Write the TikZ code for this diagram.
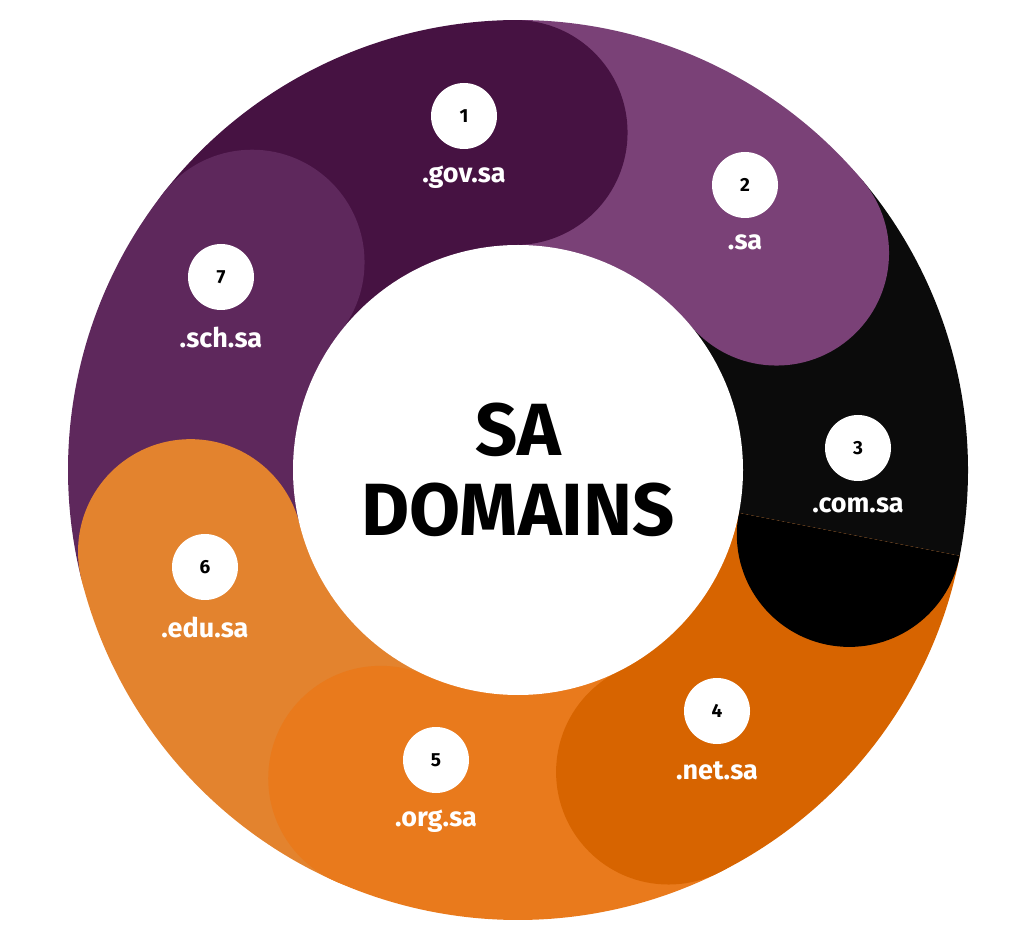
\documentclass[tikz,border=0pt]{standalone}
\usepackage{fontspec}
\setmainfont{Fira Sans}
\usetikzlibrary{calc}
\definecolor{cA}{HTML}{461242}
\definecolor{cB}{HTML}{7A4177}
\definecolor{cC}{HTML}{0B0B0B}
\definecolor{cCc}{HTML}{000000}
\definecolor{cD}{HTML}{D76400}
\definecolor{cE}{HTML}{E97A1C}
\definecolor{cF}{HTML}{E3832E}
\definecolor{cG}{HTML}{5E285C}
\tikzset{
  num/.style={circle,fill=white,minimum size=66pt,inner sep=0pt,font=\fontsize{19}{19}\selectfont\bfseries,text=black},
  lbl/.style={font=\fontsize{27}{27}\selectfont\bfseries,text=white,inner sep=0pt},
}
\begin{document}
\begin{tikzpicture}[x=1pt,y=1pt]
\useasboundingbox (0,0) rectangle (1024,948);
\coordinate (c) at (518,478);
% wedges
\foreach \a/\b/\col in {142/90.5/cA, 90.5/40/cB, 40/-11/cC, -11/-63.5/cD, -63.5/-114/cE, 246/194/cF, 194/142/cG}{
  \fill[\col] (c) -- ($(c)+(\a:450)$) arc[start angle=\a, end angle=\b, radius=450] -- cycle;
}
% caps
\foreach \a/\col in {90.5/cA, 40/cB, -63.5/cD, -114/cE, 194/cF, 142/cG}{
  \fill[\col] ($(c)+(\a:337.5)$) circle[radius=112.5];
}
\begin{scope}
  \clip (c) -- ($(c)+(-11:460)$) arc[start angle=-11, end angle=-63.5, radius=460] -- cycle;
  \fill[cCc] ($(c)+(-11:337.5)$) circle[radius=112.5];
\end{scope}
\node[circle,fill=white,minimum size=450pt,inner sep=0pt,align=center,
  font=\fontsize{74}{80}\selectfont\bfseries] (center) at (c) {SA\\DOMAINS};
\foreach \n/\x/\y/\t in {1/464/116/.gov.sa, 2/745/185/.sa, 3/858/448/.com.sa, 4/717/711/.net.sa, 5/436/760/.org.sa, 6/205/567/.edu.sa, 7/221/277/.sch.sa}{
  \node[num] (n\n) at (\x,948-\y) {\n};
  \node[lbl,anchor=north] (l\n) at (\x,948-\y-50) {\t};
}
\end{tikzpicture}
\end{document}
